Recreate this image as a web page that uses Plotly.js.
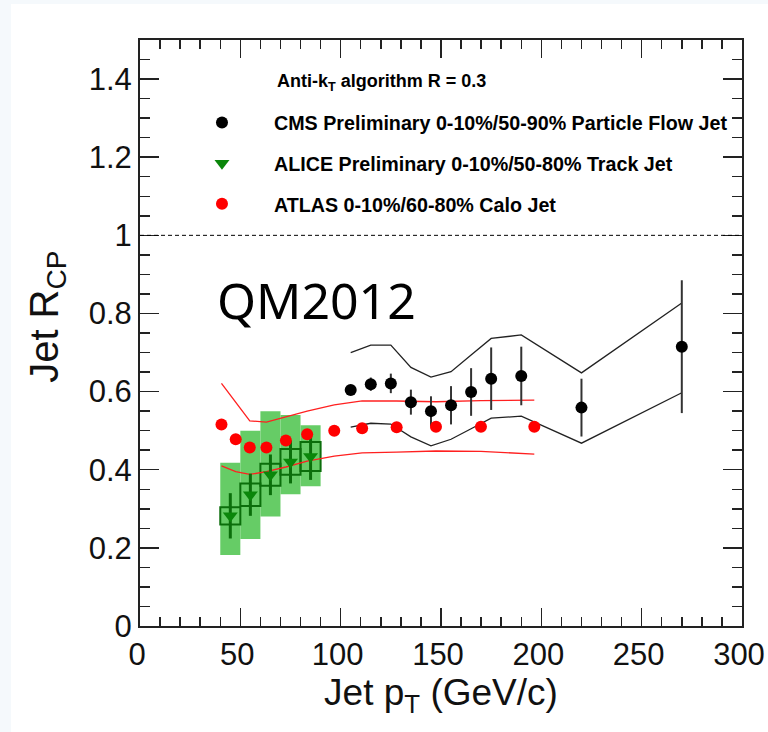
<!DOCTYPE html>
<html>
<head>
<meta charset="utf-8">
<script src="https://cdn.plot.ly/plotly-3.0.1.min.js"></script>
<style>
  html, body { margin: 0; padding: 0; background: #f5f9fc; width: 768px; height: 732px; overflow: hidden; }
  #plot { position: absolute; left: 11px; top: 4px; width: 757px; height: 728px; background: #ffffff; }
</style>
</head>
<body>
<div id="plot"></div>
<script>
// ---- CMS Preliminary 0-10%/50-90% Particle Flow Jet ----
const cmsX = [105, 115, 125, 135, 145, 155, 165, 175, 190, 220, 270];
const cmsY = [0.604, 0.619, 0.621, 0.573, 0.550, 0.565, 0.599, 0.633, 0.640, 0.559, 0.715];
const cmsErr = [0.013, 0.017, 0.025, 0.032, 0.038, 0.049, 0.061, 0.080, 0.075, 0.074, 0.170];
const cmsSysHigh = [0.700, 0.719, 0.719, 0.662, 0.637, 0.651, 0.694, 0.736, 0.745, 0.648, 0.827];
const cmsSysLow = [0.509, 0.519, 0.517, 0.484, 0.461, 0.478, 0.505, 0.532, 0.537, 0.468, 0.597];

// ---- ATLAS 0-10%/60-80% Calo Jet ----
const atlasX = [40.6, 47.7, 54.7, 63.0, 72.7, 83.3, 96.8, 110.7, 127.9, 147.5, 169.9, 196.5];
const atlasY = [0.516, 0.478, 0.457, 0.457, 0.475, 0.491, 0.500, 0.506, 0.509, 0.510, 0.510, 0.510];
const atlasSysHigh = [0.621, 0.573, 0.525, 0.522, 0.535, 0.550, 0.566, 0.576, 0.576, 0.574, 0.577, 0.578];
const atlasSysLow = [0.410, 0.395, 0.388, 0.395, 0.407, 0.422, 0.435, 0.443, 0.445, 0.448, 0.447, 0.440];

// ---- ALICE Preliminary 0-10%/50-80% Track Jet ----
const aliceX = [45, 55, 65, 75, 85];
const aliceBinWidth = [10, 10, 10, 10, 10];
const aliceY = [0.282, 0.336, 0.387, 0.420, 0.434];
const aliceStat = [0.058, 0.054, 0.052, 0.055, 0.060];
const aliceSys = [0.022, 0.029, 0.028, 0.033, 0.037];
const aliceBandLow = [0.182, 0.223, 0.280, 0.337, 0.358];
const aliceBandHigh = [0.418, 0.500, 0.550, 0.540, 0.514];

// ---- text ----
const legendNames = ['CMS Preliminary 0-10%/50-90% Particle Flow Jet',
                     'ALICE Preliminary 0-10%/50-80% Track Jet',
                     'ATLAS 0-10%/60-80% Calo Jet'];
const headerText = 'Anti-k<sub>T</sub> algorithm R = 0.3';
const stampText = 'QM2012';
const xTickVals = [0, 50, 100, 150, 200, 250, 300];
const yTickVals = [0, 0.2, 0.4, 0.6, 0.8, 1, 1.2, 1.4];
const xTitle = 'Jet p<sub>T</sub> (GeV/c)';
const yTitle = 'Jet R<sub>CP</sub>';
const unityLevel = 1;

const ALICE_BAND = '#66cc66';
const ALICE_DARK = '#0b6e0b';
const ALICE_MARK = '#0a860a';
const FRAME = '#222222';
const FONT = 'Liberation Sans, Arial, sans-serif';

const traces = [];

// ALICE band (light green)
traces.push({
  type: 'bar', x: aliceX, base: aliceBandLow,
  y: aliceBandHigh.map((h, i) => h - aliceBandLow[i]),
  width: aliceBinWidth,
  marker: { color: ALICE_BAND, line: { width: 0 } },
  showlegend: false, hoverinfo: 'skip'
});
// ALICE systematic boxes (open squares)
traces.push({
  type: 'bar', x: aliceX, base: aliceY.map((v, i) => v - aliceSys[i]),
  y: aliceSys.map(s => 2 * s),
  width: aliceBinWidth,
  marker: { color: 'rgba(0,0,0,0)', line: { width: 2, color: ALICE_DARK } },
  showlegend: false, hoverinfo: 'skip'
});
// ATLAS systematic lines
traces.push({ type: 'scatter', mode: 'lines', x: atlasX, y: atlasSysHigh,
  line: { color: '#ff2020', width: 1.3 }, showlegend: false, hoverinfo: 'skip' });
traces.push({ type: 'scatter', mode: 'lines', x: atlasX, y: atlasSysLow,
  line: { color: '#ff2020', width: 1.3 }, showlegend: false, hoverinfo: 'skip' });
// CMS systematic lines
traces.push({ type: 'scatter', mode: 'lines', x: cmsX, y: cmsSysHigh,
  line: { color: '#222222', width: 1.3 }, showlegend: false, hoverinfo: 'skip' });
traces.push({ type: 'scatter', mode: 'lines', x: cmsX, y: cmsSysLow,
  line: { color: '#222222', width: 1.3 }, showlegend: false, hoverinfo: 'skip' });
// ALICE stat error bars
traces.push({ type: 'scatter', mode: 'markers', x: aliceX, y: aliceY,
  marker: { size: 1, color: 'rgba(0,0,0,0)' },
  error_y: { type: 'data', array: aliceStat, visible: true, width: 0, thickness: 3, color: ALICE_DARK },
  showlegend: false, hoverinfo: 'skip' });
// CMS stat error bars
traces.push({ type: 'scatter', mode: 'markers', x: cmsX, y: cmsY,
  marker: { size: 1, color: 'rgba(0,0,0,0)' },
  error_y: { type: 'data', array: cmsErr, visible: true, width: 0, thickness: 2, color: '#333333' },
  showlegend: false, hoverinfo: 'skip' });
// markers
traces.push({ type: 'scatter', mode: 'markers', x: aliceX, y: aliceY, name: legendNames[1],
  legendrank: 2, legendgroup: 'b',
  marker: { symbol: 'triangle-down', size: 13, color: ALICE_MARK } });
traces.push({ type: 'scatter', mode: 'markers', x: atlasX, y: atlasY, name: legendNames[2],
  legendrank: 3, legendgroup: 'c',
  marker: { symbol: 'circle', size: 12, color: '#ff0000' } });
traces.push({ type: 'scatter', mode: 'markers', x: cmsX, y: cmsY, name: legendNames[0],
  legendrank: 1, legendgroup: 'a',
  marker: { symbol: 'circle', size: 12, color: '#000000' } });

const tickFont = { family: FONT, size: 31, color: '#111' };

const layout = {
  width: 757, height: 728,
  margin: { l: 129, r: 26, t: 36, b: 106 },
  paper_bgcolor: '#ffffff', plot_bgcolor: '#ffffff',
  barmode: 'overlay',
  showlegend: true,
  legend: {
    x: 0.0498, y: 0.892, xanchor: 'left', yanchor: 'top',
    bgcolor: 'rgba(0,0,0,0)', borderwidth: 0,
    font: { family: FONT, size: 19.7, weight: 'bold', color: '#000' },
    tracegroupgap: 12, traceorder: 'grouped', itemwidth: 94
  },
  xaxis: {
    range: [0, 300], tickmode: 'array', tickvals: xTickVals,
    ticks: 'inside', ticklen: 18, tickwidth: 1.5, tickcolor: FRAME,
    minor: { dtick: 10, ticks: 'inside', ticklen: 9, tickwidth: 1.5, tickcolor: FRAME },
    showline: true, linecolor: FRAME, linewidth: 2, mirror: 'ticks',
    showgrid: false, zeroline: false,
    tickfont: tickFont, ticklabelshift: -3,
    title: { text: xTitle, font: { family: FONT, size: 37, color: '#111' }, standoff: 0 }
  },
  yaxis: {
    range: [0, 1.5], tickmode: 'array', tickvals: yTickVals,
    ticks: 'inside', ticklen: 19, tickwidth: 1.5, tickcolor: FRAME,
    minor: { dtick: 0.05, ticks: 'inside', ticklen: 10, tickwidth: 1.5, tickcolor: FRAME },
    showline: true, linecolor: FRAME, linewidth: 2, mirror: 'ticks',
    showgrid: false, zeroline: false,
    tickfont: tickFont
  },
  shapes: [{
    type: 'line', xref: 'paper', x0: 0, x1: 1, yref: 'y', y0: unityLevel, y1: unityLevel,
    line: { color: '#000', width: 1, dash: '4px,3px' }
  }],
  annotations: [
    { text: headerText, xref: 'x', yref: 'y', x: 67.2, y: 1.392, xanchor: 'left', yanchor: 'middle',
      showarrow: false, font: { family: FONT, size: 18, weight: 'bold', color: '#000' } },
    { text: stampText, xref: 'x', yref: 'y', x: 37.3, y: 0.834, xanchor: 'left', yanchor: 'middle',
      showarrow: false, font: { family: 'Noto Sans, sans-serif', size: 50, color: '#000' } },
    { text: yTitle, xref: 'paper', yref: 'paper', x: -0.155, y: 0.527, xanchor: 'center', yanchor: 'middle',
      textangle: -90, showarrow: false, font: { family: FONT, size: 40, color: '#111' } }
  ]
};

Plotly.newPlot('plot', traces, layout, { displayModeBar: false, staticPlot: true });
</script>
</body>
</html>
